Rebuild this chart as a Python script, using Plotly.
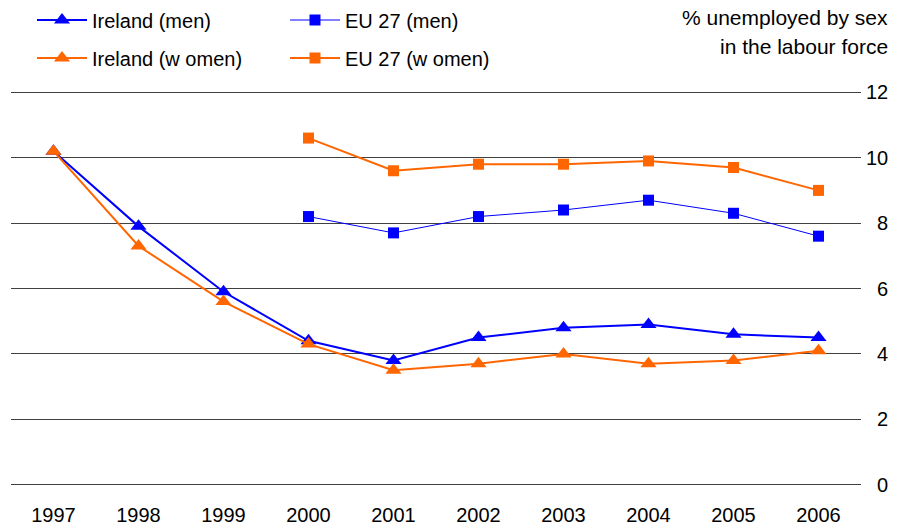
import plotly.graph_objects as go

# years on the x axis
years = ["1997", "1998", "1999", "2000", "2001", "2002", "2003", "2004", "2005", "2006"]
eu_years = years[3:]

# % unemployed in the labour force
ireland_men = [10.2, 7.9, 5.9, 4.4, 3.8, 4.5, 4.8, 4.9, 4.6, 4.5]
ireland_women = [10.2, 7.3, 5.6, 4.3, 3.5, 3.7, 4.0, 3.7, 3.8, 4.1]
eu27_men = [8.2, 7.7, 8.2, 8.4, 8.7, 8.3, 7.6]
eu27_women = [10.6, 9.6, 9.8, 9.8, 9.9, 9.7, 9.0]

# y axis ticks (labels are right aligned in the original, pad single digits with a figure space)
y_ticks = [0, 2, 4, 6, 8, 10, 12]
y_labels = ["0", "2", "4", "6", "8", "10", "12"]

title_lines = ["% unemployed by sex", "in the labour force"]

blue = "#0000FF"
orange = "#FF6600"
fnt = "Arial, Liberation Sans, sans-serif"

# the page body has an 8px margin, so the figure is 8px smaller and everything sits 8px up/left
W, H = 889, 520
L, R, T, B = 3, 36, 81, 40
pw, ph = W - L - R, H - T - B

fig = go.Figure()

fig.add_trace(go.Scatter(x=years, y=ireland_men, name="Ireland (men)", mode="lines+markers",
                         line=dict(color=blue, width=2),
                         marker=dict(symbol="triangle-up", size=14, color=blue),
                         legend="legend"))
fig.add_trace(go.Scatter(x=eu_years, y=eu27_men, name="EU 27 (men)", mode="lines+markers",
                         line=dict(color=blue, width=1),
                         marker=dict(symbol="square", size=11, color=blue),
                         legend="legend"))
fig.add_trace(go.Scatter(x=years, y=ireland_women, name="Ireland (w omen)", mode="lines+markers",
                         line=dict(color=orange, width=2),
                         marker=dict(symbol="triangle-up", size=14, color=orange),
                         legend="legend2"))
fig.add_trace(go.Scatter(x=eu_years, y=eu27_women, name="EU 27 (w omen)", mode="lines+markers",
                         line=dict(color=orange, width=2),
                         marker=dict(symbol="square", size=11, color=orange),
                         legend="legend2"))

# two one-row legends, stacked
leg = dict(orientation="h", xref="container", yref="container", xanchor="left", yanchor="middle",
           entrywidth=188, entrywidthmode="pixels", itemwidth=50,
           font=dict(family=fnt, size=20, color="#000000"), bgcolor="rgba(0,0,0,0)")

# title, one annotation per line
notes = []
for i, txt in enumerate(title_lines):
    notes.append(dict(text=txt, xref="paper", yref="paper",
                      x=(882 - L) / pw, y=(H - B - (9 + 30 * i)) / ph,
                      xanchor="right", yanchor="middle", showarrow=False,
                      font=dict(family=fnt, size=21)))

fig.update_layout(
    width=W, height=H,
    margin=dict(l=L, r=R, t=T, b=B, autoexpand=False),
    paper_bgcolor="white", plot_bgcolor="white",
    font=dict(family=fnt, size=20, color="#000000"),
    showlegend=True,
    legend=dict(leg, x=24 / W, y=1 - 12 / H),
    legend2=dict(leg, x=24 / W, y=1 - 50 / H),
    xaxis=dict(type="category", range=[-0.5, 9.5], showgrid=False, zeroline=False,
               showline=False, ticks="", ticklabelstandoff=13, automargin=False,
               tickfont=dict(family=fnt, size=20)),
    yaxis=dict(side="right", range=[-0.1, 12.1], tickvals=y_ticks,
               ticktext=[s.rjust(2, "\u2007") for s in y_labels],
               showgrid=True, gridcolor="#404040",
               gridwidth=1, zeroline=False, showline=False, ticks="", ticklabelstandoff=4,
               automargin=False, tickfont=dict(family=fnt, size=20)),
    annotations=notes,
)

fig.write_html("out.html")
